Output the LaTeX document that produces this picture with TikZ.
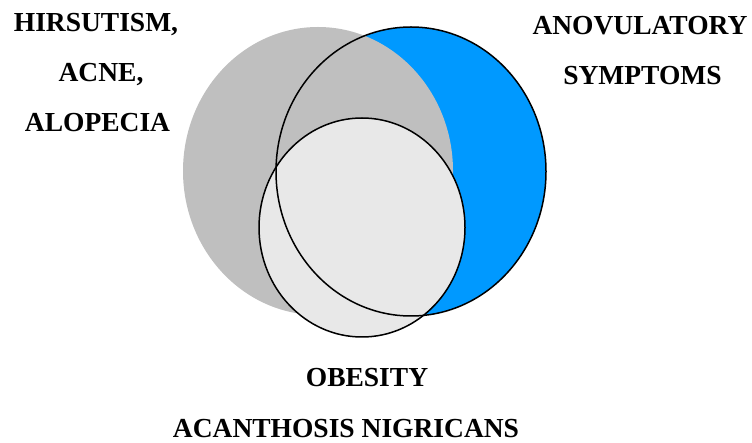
\documentclass[tikz,border=0pt]{standalone}
\usepackage{fontspec}
\setmainfont{Liberation Serif}
\definecolor{vblue}{HTML}{0099FF}
\definecolor{vgray}{HTML}{BFBFBF}
\definecolor{vlight}{HTML}{E8E8E8}
\begin{document}
\begin{tikzpicture}[x=1pt,y=-1pt,
  lbl/.style={font=\fontsize{27.5}{30}\selectfont\bfseries, inner sep=0pt, anchor=base},
  ring/.style={line width=1.5pt, draw=black}]
\useasboundingbox (0,0) rectangle (752,443);
% fills
\fill[vblue] (411,171.5) ellipse [x radius=135, y radius=144.5];
\fill[vgray] (318,171) ellipse [x radius=135, y radius=144];
\filldraw[fill=vlight, ring] (362,227.5) ellipse [x radius=103, y radius=109.5];
\draw[ring] (411,171.5) ellipse [x radius=135, y radius=144.5];
% labels
\node[lbl] (h1) at (96,31.5) {HIRSUTISM,};
\node[lbl] (h2) at (101,81.5) {ACNE,};
\node[lbl] (h3) at (97.5,131.5) {ALOPECIA};
\node[lbl] (a1) at (640,35) {ANOVULATORY};
\node[lbl] (a2) at (642.5,85) {SYMPTOMS};
\node[lbl] (o1) at (367,386.5) {OBESITY};
\node[lbl] (o2) at (346,437.5) {ACANTHOSIS NIGRICANS};
\end{tikzpicture}
\end{document}
